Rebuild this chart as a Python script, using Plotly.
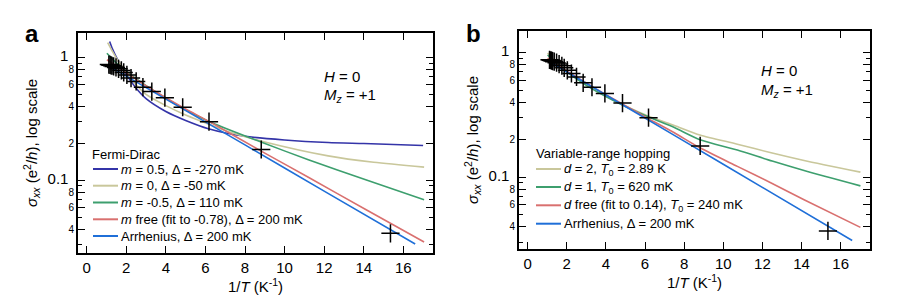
import plotly.graph_objects as go
import math

# ---------------- data ----------------
data_x = [1.12, 1.18, 1.23, 1.28, 1.36, 1.48, 1.61, 1.75, 1.87, 2.03, 2.24, 2.5,
          2.84, 3.29, 3.95, 4.85, 6.18, 8.82, 15.35]
data_y = [0.875, 0.868, 0.862, 0.855, 0.845, 0.829, 0.808, 0.784, 0.755, 0.72,
          0.679, 0.638, 0.572, 0.527, 0.47, 0.393, 0.300, 0.178, 0.0370]

# Panel a: Fermi-Dirac fits
a_m05_x = [1.16, 1.3, 1.6, 2.0, 2.5, 3.0, 4.0, 5.0, 6.15, 8.0, 10.0, 12.2, 14.0, 17.0]
a_m05_y = [1.349, 1.175, 0.933, 0.724, 0.562, 0.462, 0.363, 0.307, 0.263, 0.228, 0.213, 0.203, 0.199, 0.192]
a_m0_x = [1.06, 1.3, 1.6, 2.0, 2.5, 3.0, 4.0, 5.0, 6.2, 7.3, 9.0, 12.2, 14.5, 17.05]
a_m0_y = [1.32, 1.12, 0.93, 0.76, 0.60, 0.50, 0.405, 0.340, 0.285, 0.245, 0.205, 0.158, 0.140, 0.128]
a_mneg_x = [1.02, 1.5, 2.0, 3.0, 4.0, 5.0, 6.2, 8.84, 11.2, 14.1, 17.05]
a_mneg_y = [1.08, 0.90, 0.77, 0.59, 0.465, 0.375, 0.30, 0.204, 0.147, 0.101, 0.0695]
a_mfree_x = [1.02, 1.5, 2.0, 3.0, 4.0, 5.0, 6.2, 8.84, 11.2, 14.1, 17.05]
a_mfree_y = [0.957, 0.85, 0.75, 0.585, 0.47, 0.38, 0.300, 0.172, 0.106, 0.0578, 0.0315]
a_arr_x = [1.02, 4.0, 8.0, 12.0, 16.6]
a_arr_y = [0.87, 0.458, 0.194, 0.0817, 0.0303]

# Panel b: variable-range hopping fits
b_d2_x = [1.02, 1.5, 2.0, 3.0, 4.0, 5.0, 6.15, 7.5, 8.81, 10.72, 12.5, 14.13, 17.01]
b_d2_y = [0.99, 0.83, 0.71, 0.55, 0.445, 0.372, 0.31, 0.26, 0.218, 0.184, 0.156, 0.136, 0.1097]
b_d1_x = [1.02, 1.5, 2.0, 3.0, 4.0, 5.0, 6.15, 7.5, 8.81, 10.72, 12.5, 14.13, 17.01]
b_d1_y = [0.957, 0.811, 0.70, 0.546, 0.444, 0.369, 0.305, 0.25, 0.200, 0.165, 0.1345, 0.113, 0.0851]
b_dfree_x = [1.02, 1.5, 2.0, 3.0, 4.0, 5.0, 6.15, 7.5, 8.81, 10.72, 12.5, 14.13, 17.01]
b_dfree_y = [0.90, 0.80, 0.713, 0.570, 0.460, 0.374, 0.296, 0.227, 0.172, 0.122, 0.089, 0.0659, 0.0395]
b_arr_x = [1.02, 5.0, 10.0, 16.59]
b_arr_y = [0.863, 0.369, 0.127, 0.031]

x_ticks = [0, 2, 4, 6, 8, 10, 12, 14, 16]
y_tickvals = [0.04, 0.06, 0.08, 0.1, 0.2, 0.4, 0.6, 0.8, 1]
y_minor = [0.03, 0.05, 0.07, 0.09, 0.3, 0.5, 0.7, 0.9]

legend_a_title = "Fermi-Dirac"
legend_a = ["<i>m</i> = 0.5, Δ = -270 mK",
            "<i>m</i> = 0, Δ = -50 mK",
            "<i>m</i> = -0.5, Δ = 110 mK",
            "<i>m</i> free (fit to -0.78), Δ = 200 mK",
            "Arrhenius, Δ = 200 mK"]
legend_b_title = "Variable-range hopping"
legend_b = ["<i>d</i> = 2, <i>T</i><sub>0</sub> = 2.89 K",
            "<i>d</i> = 1, <i>T</i><sub>0</sub> = 620 mK",
            "<i>d</i> free (fit to 0.14), <i>T</i><sub>0</sub> = 240 mK",
            "Arrhenius, Δ = 200 mK"]

# ---------------- styling ----------------
C_NAVY = "#3434a8"
C_KHAKI = "#c9c79b"
C_GREEN = "#3d9f6e"
C_RED = "#d9706f"
C_BLUE = "#1f6fd8"
FONT = "Liberation Sans, Arial, Helvetica, sans-serif"
W, H = 900, 307

fig = go.Figure()

def add_line(x, y, color, xa, ya):
    fig.add_trace(go.Scatter(x=x, y=y, mode="lines",
                             line=dict(color=color, width=1.6, shape="spline", smoothing=0.7),
                             xaxis=xa, yaxis=ya, showlegend=False, hoverinfo="skip"))

add_line(a_m05_x, a_m05_y, C_NAVY, "x", "y")
add_line(a_m0_x, a_m0_y, C_KHAKI, "x", "y")
add_line(a_mneg_x, a_mneg_y, C_GREEN, "x", "y")
add_line(a_mfree_x, a_mfree_y, C_RED, "x", "y")
add_line(a_arr_x, a_arr_y, C_BLUE, "x", "y")

add_line(b_d2_x, b_d2_y, C_KHAKI, "x2", "y2")
add_line(b_d1_x, b_d1_y, C_GREEN, "x2", "y2")
add_line(b_dfree_x, b_dfree_y, C_RED, "x2", "y2")
add_line(b_arr_x, b_arr_y, C_BLUE, "x2", "y2")

for xa, ya in [("x", "y"), ("x2", "y2")]:
    fig.add_trace(go.Scatter(x=data_x, y=data_y, mode="markers",
                             marker=dict(symbol="cross-thin", size=13, line=dict(color="black", width=1.5)),
                             xaxis=xa, yaxis=ya, showlegend=False, hoverinfo="skip"))

def px2x(px):
    return px / W

def py2y(py):
    return 1 - py / H

dom_a_x = [px2x(70), px2x(425)]
dom_a_y = [py2y(245), py2y(25)]
dom_b_x = [px2x(511), px2x(862)]
dom_b_y = [py2y(241), py2y(23)]

yr_a = [math.log10(0.0256), math.log10(1.58)]
yr_b = [math.log10(0.0265), math.log10(1.49)]

def ytext(v):
    if v == 1:
        return "<span style='font-size:15px'>1</span>\u00a0\u00a0"
    if abs(v - 0.1) < 1e-9:
        return "<span style='font-size:15px'>0.1</span>\u00a0\u00a0"
    d = int(round(v / 10 ** math.floor(math.log10(v) + 1e-9)))
    return str(d)

y_ticktext = [ytext(v) for v in y_tickvals]

xaxis_common = dict(range=[-0.44, 17.5], tickvals=x_ticks, ticks="inside", ticklen=7, tickwidth=1.3,
                    tickcolor="black", showline=True, linecolor="black", linewidth=2, mirror="ticks",
                    showgrid=False, zeroline=False, tickfont=dict(family=FONT, size=15, color="black"),
                    title=dict(text="1/<i>T</i> (K<sup>-1</sup>)", font=dict(family=FONT, size=15, color="black"),
                               standoff=6))
yaxis_common = dict(type="log", tickvals=y_tickvals, ticktext=y_ticktext, ticks="inside", ticklen=7,
                    tickwidth=1.3, tickcolor="black", showline=True, linecolor="black", linewidth=2,
                    mirror="ticks", showgrid=False, zeroline=False,
                    tickfont=dict(family=FONT, size=10, color="black"),
                    minor=dict(tickvals=y_minor, ticklen=4, tickwidth=1.2, tickcolor="black", ticks="inside",
                               showgrid=False),
                    title=dict(text="<i>σ</i><sub><i>xx</i></sub> (e<sup>2</sup>/<i>h</i>), log scale",
                               font=dict(family=FONT, size=15, color="black"), standoff=6))
# overlay axes that add the short outward part of the crossing y ticks
yover_common = dict(type="log", tickvals=y_tickvals, ticks="outside", ticklen=4, tickwidth=1.3,
                    tickcolor="black", showticklabels=False, showline=False, mirror="ticks",
                    showgrid=False, zeroline=False)

fig.update_layout(
    width=W, height=H, margin=dict(l=0, r=0, t=0, b=0),
    paper_bgcolor="white", plot_bgcolor="white", showlegend=False,
    xaxis=dict(domain=dom_a_x, anchor="y", **xaxis_common),
    yaxis=dict(domain=dom_a_y, anchor="x", range=yr_a, **yaxis_common),
    xaxis2=dict(domain=dom_b_x, anchor="y2", **xaxis_common),
    yaxis2=dict(domain=dom_b_y, anchor="x2", range=yr_b, **yaxis_common),
    yaxis3=dict(overlaying="y", anchor="x", range=yr_a, **yover_common),
    yaxis4=dict(overlaying="y2", anchor="x2", range=yr_b, **yover_common),
)

ann = []
shapes = []

def txt(x, y, text, size=13, xanchor="left", **kw):
    ann.append(dict(x=px2x(x), y=py2y(y), xref="paper", yref="paper", text=text, showarrow=False,
                    xanchor=xanchor, yanchor="middle", font=dict(family=FONT, size=size, color="black"), **kw))

# panel labels
txt(24, 25, "<b>a</b>", size=24, xanchor="center")
txt(465, 25, "<b>b</b>", size=24, xanchor="center")

# H / Mz annotations
txt(314, 68, "<i>H</i> = 0", size=15)
txt(314, 87, "<i>M</i><sub><i>z</i></sub> = +1", size=15)
txt(751, 63, "<i>H</i> = 0", size=15)
txt(751, 82, "<i>M</i><sub><i>z</i></sub> = +1", size=15)

# legends (drawn as annotations + line shapes)
txt(82, 146.5, legend_a_title, size=13)
la_y = [161, 177.7, 194.5, 211.3, 228]
la_c = [C_NAVY, C_KHAKI, C_GREEN, C_RED, C_BLUE]
for yy, lab, c in zip(la_y, legend_a, la_c):
    shapes.append(dict(type="line", xref="paper", yref="paper", x0=px2x(85), x1=px2x(110),
                       y0=py2y(yy), y1=py2y(yy), line=dict(color=c, width=2)))
    txt(111, yy, lab, size=13)

txt(526, 145, legend_b_title, size=13)
lb_y = [161, 179, 197.3, 215.7]
lb_c = [C_KHAKI, C_GREEN, C_RED, C_BLUE]
for yy, lab, c in zip(lb_y, legend_b, lb_c):
    shapes.append(dict(type="line", xref="paper", yref="paper", x0=px2x(528), x1=px2x(553),
                       y0=py2y(yy), y1=py2y(yy), line=dict(color=c, width=2)))
    txt(554, yy, lab, size=13)

fig.update_layout(annotations=ann, shapes=shapes)

fig.write_html("out.html")
